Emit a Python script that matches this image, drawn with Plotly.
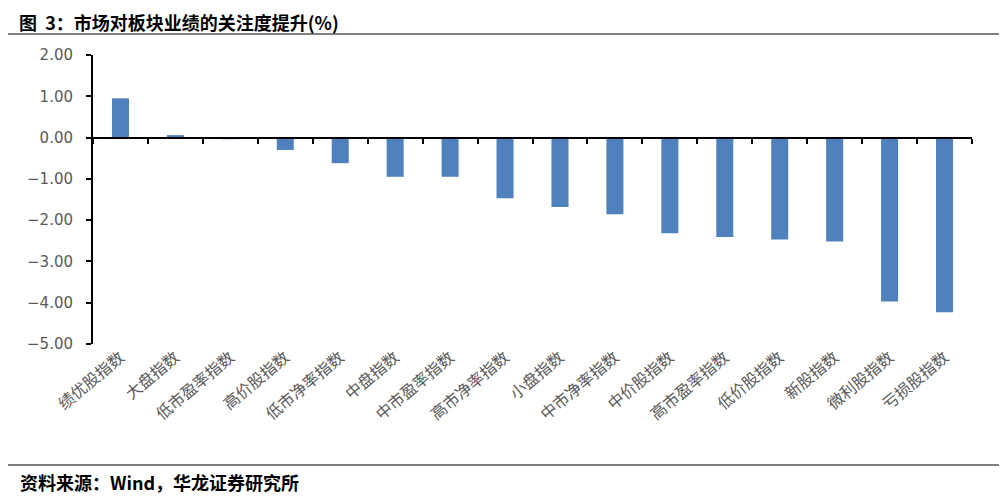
import plotly.graph_objects as go

# data
categories = ['绩优股指数', '大盘指数', '低市盈率指数', '高价股指数', '低市净率指数',
              '中盘指数', '中市盈率指数', '高市净率指数', '小盘指数', '中市净率指数',
              '中价股指数', '高市盈率指数', '低价股指数', '新股指数', '微利股指数', '亏损股指数']
values = [0.95, 0.06, -0.04, -0.30, -0.62, -0.95, -0.95, -1.47, -1.68, -1.86,
          -2.32, -2.41, -2.47, -2.52, -3.97, -4.23]
y_ticks = [2, 1, 0, -1, -2, -3, -4, -5]

title_text = '图\u00a0\u00a03：市场对板块业绩的关注度提升(%)'
source_text = '资料来源：Wind，华龙证券研究所'

# the page puts the figure 8px in from the top-left corner,
# so the figure is made that much smaller and coordinates shifted
OFF = 8
W, H = 1007 - OFF, 498 - OFF
L, R, T, B = 93 - OFF, 35, 55 - OFF, 154
plot_w = W - L - R
plot_h = H - T - B
y_min, y_max = -5, 2


def px_x(p):
    # page pixel -> paper x
    return (p - OFF - L) / plot_w


def px_y(p):
    # page pixel -> paper y
    return (H - B - (p - OFF)) / plot_h


cjk = 'Noto Sans CJK SC'
gray = '#595959'

fig = go.Figure()
fig.add_trace(go.Bar(x=categories, y=values, marker_color='#4F81BD',
                     marker_line_width=0, xaxis='x', yaxis='y'))
# invisible helper trace so the zero-line axis gets drawn
fig.add_trace(go.Scatter(x=categories, y=[0] * len(categories), mode='markers',
                         marker=dict(opacity=0), hoverinfo='skip',
                         xaxis='x2', yaxis='y', showlegend=False))

fig.update_layout(
    width=W, height=H,
    margin=dict(l=L, r=R, t=T, b=B),
    paper_bgcolor='white', plot_bgcolor='white',
    showlegend=False,
    bargap=0.69,
    xaxis=dict(type='category', range=[-0.5, len(categories) - 0.5],
               showline=False, showgrid=False, zeroline=False, ticks='',
               tickangle=-40, tickfont=dict(family=cjk, size=16, color=gray)),
    xaxis2=dict(type='category', overlaying='x', anchor='free',
                position=(0 - y_min) / (y_max - y_min),
                range=[-0.5, len(categories) - 0.5],
                showline=True, linecolor='black', linewidth=2,
                ticks='outside', tickson='boundaries', ticklen=5, tickwidth=2,
                tickcolor='black', showticklabels=False, showgrid=False,
                zeroline=False),
    yaxis=dict(range=[y_min, y_max], tickvals=y_ticks, tickformat='.2f',
               showline=True, linecolor='black', linewidth=2,
               ticks='outside', ticklen=5, tickwidth=2, tickcolor='black',
               ticklabelstandoff=10,
               showgrid=False, zeroline=False,
               tickfont=dict(family='DejaVu Sans', size=15, color=gray)),
)

fig.add_annotation(text='<b>' + title_text + '</b>', xref='paper', yref='paper',
                   x=px_x(18), y=px_y(8), xanchor='left', yanchor='top',
                   borderpad=0, showarrow=False,
                   font=dict(family=cjk, size=18, color='black'))
fig.add_annotation(text='<b>' + source_text + '</b>', xref='paper', yref='paper',
                   x=px_x(18), y=px_y(482), xanchor='left', yanchor='middle',
                   showarrow=False, font=dict(family=cjk, size=18, color='black'))

for yy in (34, 465):
    fig.add_shape(type='line', xref='paper', yref='paper',
                  x0=px_x(8), x1=px_x(1001), y0=px_y(yy), y1=px_y(yy),
                  line=dict(color='#808080', width=2))

fig.write_html('out.html')
